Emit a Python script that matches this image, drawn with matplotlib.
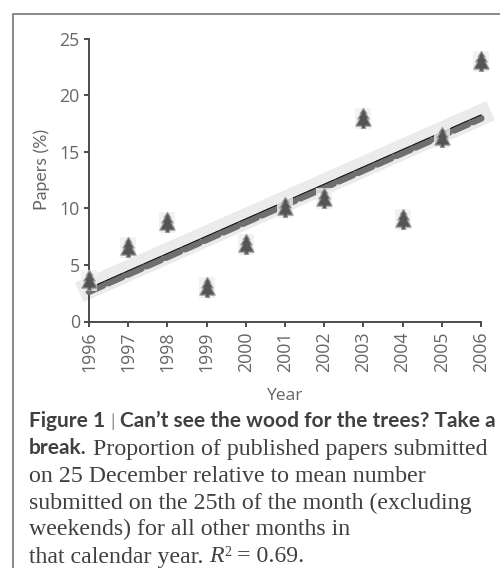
import matplotlib
matplotlib.use("Agg")
import matplotlib.pyplot as plt
from matplotlib.lines import Line2D
from matplotlib.path import Path
from matplotlib.markers import MarkerStyle

# ---- data ----
years = [1996, 1997, 1998, 1999, 2000, 2001, 2002, 2003, 2004, 2005, 2006]
papers = [3.7, 6.6, 8.8, 3.05, 6.85, 10.1, 10.9, 18.0, 9.05, 16.3, 23.0]
fit_years = [1996, 2006]
fit_values = [2.95, 18.25]
y_ticks = [0, 5, 10, 15, 20, 25]
x_label = "Year"
y_label = "Papers (%)"

W, H = 500, 568
FONT = "Open Sans"
GREY = "#666666"
AX = "#474747"
px = 72 / 100

fig = plt.figure(figsize=(W / 100, H / 100), dpi=100)
ax = fig.add_axes([89 / W, 1 - 321.5 / H, (481 - 89) / W, (321.5 - 38.5) / H])
ax.set_xlim(1996, 2006)
ax.set_ylim(0, 25)

# regression band, garland and centre line
ax.plot(fit_years, fit_values, color="#ebebeb", lw=21 * px, solid_capstyle="projecting", clip_on=False, zorder=2)
ax.plot(fit_years, [v - 0.3 for v in fit_values], color="#6f6f6f", lw=7 * px, clip_on=False, zorder=3,
        dash_capstyle="round", dashes=(2.2, 0.8))
ax.plot(fit_years, fit_values, color="#111111", lw=1.0 * px, clip_on=False, zorder=4)

# tree markers
box = Path([(-8, -10.5), (8, -10.5), (8, 10.5), (-8, 10.5), (-8, -10.5)])
tree = Path([(0, 10.5), (3.5, 5), (2.5, 5), (6, -0.5), (4, -0.5), (8, -8), (2, -8), (2, -10.5),
             (-2, -10.5), (-2, -8), (-8, -8), (-4, -0.5), (-6, -0.5), (-2.5, 5), (-3.5, 5), (0, 10.5)])
ms = 21 * px
ax.plot(years, papers, ls="none", marker=MarkerStyle(box), ms=ms, mfc="#efefef", mew=0, clip_on=False, zorder=5, alpha=0.8)
ax.plot(years, papers, ls="none", marker=MarkerStyle(tree), ms=ms * 0.95, mfc="#555555", mec="#999999", mew=1.2 * px,
        clip_on=False, zorder=6)

# axes
for s in ("top", "right"):
    ax.spines[s].set_visible(False)
for s in ("left", "bottom"):
    ax.spines[s].set_linewidth(1.9 * px)
    ax.spines[s].set_color(AX)
ax.set_xticks(years)
ax.set_yticks(y_ticks)
ax.tick_params(axis="both", direction="out", length=5 * px, width=1.9 * px, color=AX,
               labelcolor=GREY, labelsize=12.8, pad=3)
ax.tick_params(axis="x", labelrotation=90, pad=3.5)
for t in ax.get_xticklabels() + ax.get_yticklabels():
    t.set_fontfamily(FONT)

fig.text(284 / W, 1 - 396 / H, x_label, ha="center", va="center", family=FONT, size=12.6, color=GREY)
fig.text(41.5 / W, 1 - 169 / H, y_label, ha="center", va="center", rotation=90, family="Lato", size=12.8, color=GREY)

# frame
fig.add_artist(Line2D([12.5 / W, 12.5 / W, 1], [0, 1 - 14 / H, 1 - 14 / H], color="#707070", lw=1.6 * px))

# caption
CAP = "#404040"
SANS = dict(family="Lato", weight="bold", size=15.0, color=CAP)
SERIF = dict(family="Liberation Serif", size=17.2, color=CAP)
ITAL = dict(family="Liberation Serif", size=17.2, color=CAP, style="italic")
SUP = dict(family="Liberation Serif", size=10, color=CAP)
lines = [
    [("Figure 1", SANS, 0), (" ", SANS, 0), ("|", dict(family="Lato", size=13, color="#888888"), 0), (" ", SANS, 0),
     ("Can\u2019t see the wood for the trees? Take a", SANS, 0)],
    [("break.", SANS, 0), (" Proportion of published papers submitted", SERIF, 0)],
    [("on 25 December relative to mean number", SERIF, 0)],
    [("submitted on the 25th of the month (excluding", SERIF, 0)],
    [("weekends) for all other months in", SERIF, 0)],
    [("that calendar year. ", SERIF, 0), ("R", ITAL, 0), ("2", SUP, 7), (" = 0.69.", SERIF, 0)],
]
baselines = [427, 454.5, 481.5, 508.5, 535.5, 562.5]
r = fig.canvas.get_renderer()
for parts, base in zip(lines, baselines):
    x = 29.0
    for text, style, rise in parts:
        txt = text.replace(" ", "\u00a0")
        t = fig.text(x / W, 1 - (base - rise) / H, txt, ha="left", va="baseline", **style)
        x += t.get_window_extent(r).width if txt.strip("\u00a0") else style["size"] * 0.36

fig.savefig("out.png", dpi=100)
